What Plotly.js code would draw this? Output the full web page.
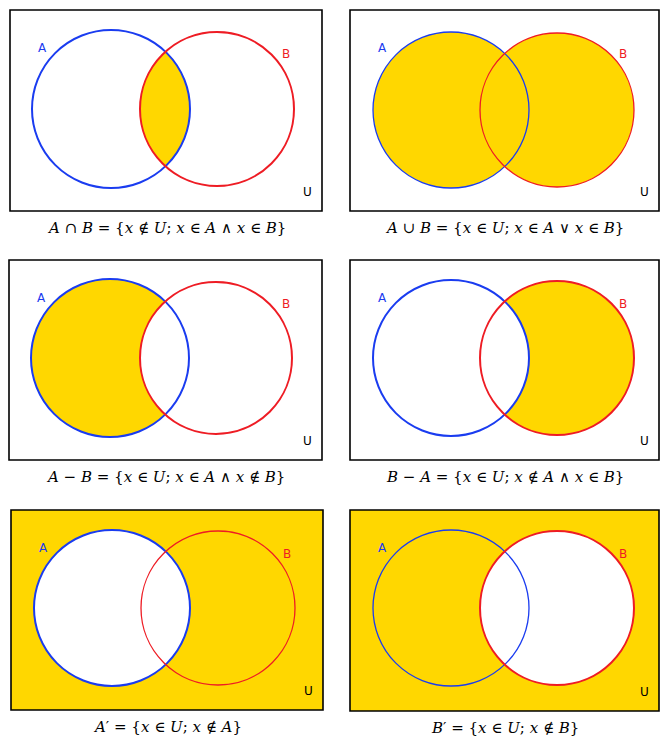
<!DOCTYPE html>
<html>
<head>
<meta charset="utf-8">
<script src="https://cdn.plot.ly/plotly-3.0.1.min.js"></script>
<style>body{margin:0;background:#fff}</style>
</head>
<body>
<div id="chart"></div>
<script>
// panel boxes [left, top, right, bottom]
const boxes = [[10,10,322,211],[350,10,659,211],[9,260,322,460],[350,260,659,460],[11,510,323,710],[350,510,659,711]];
// circle A and B: [cx, cy, r]
const circA = [[111,109,79],[451,110,78],[110,358,79],[451,358,78],[112,608,78],[451,608,78]];
const circB = [[217,109,77],[557,110,77],[216,358,76],[557,358,77],[218,608,77],[557,608,77]];
// which region is shaded
const regions = ["AnB","AuB","A-B","B-A","A'","B'"];
const captions = [
  "<i>A</i> ∩ <i>B</i> = {<i>x</i> ∉ <i>U</i>; <i>x</i> ∈ <i>A</i> ∧ <i>x</i> ∈ <i>B</i>}",
  "<i>A</i> ∪ <i>B</i> = {<i>x</i> ∈ <i>U</i>; <i>x</i> ∈ <i>A</i> ∨ <i>x</i> ∈ <i>B</i>}",
  "<i>A</i> − <i>B</i> = {<i>x</i> ∈ <i>U</i>; <i>x</i> ∈ <i>A</i> ∧ <i>x</i> ∉ <i>B</i>}",
  "<i>B</i> − <i>A</i> = {<i>x</i> ∈ <i>U</i>; <i>x</i> ∉ <i>A</i> ∧ <i>x</i> ∈ <i>B</i>}",
  "<i>A</i>′ = {<i>x</i> ∈ <i>U</i>; <i>x</i> ∉ <i>A</i>}",
  "<i>B</i>′ = {<i>x</i> ∈ <i>U</i>; <i>x</i> ∉ <i>B</i>}"
];

const YEL = "#ffd700", BLUE = "#1a3cf0", RED = "#ee1c24";
const shapes = [], annotations = [];

function circ(c, fill, line, w) {
  return {type:"circle", xref:"x", yref:"y", x0:c[0]-c[2], x1:c[0]+c[2], y0:c[1]-c[2], y1:c[1]+c[2],
    fillcolor:fill, line:{color:line, width:w}};
}
function lens(A, B) {
  const d = B[0]-A[0];
  const a = (d*d + A[2]*A[2] - B[2]*B[2])/(2*d);
  const h = Math.sqrt(A[2]*A[2] - a*a);
  const al = Math.atan2(h, a), be = Math.atan2(h, d-a);
  const pts = [];
  for (let i=0;i<=40;i++){const t=-al+2*al*i/40; pts.push([A[0]+A[2]*Math.cos(t), A[1]+A[2]*Math.sin(t)]);}
  for (let i=0;i<=40;i++){const t=Math.PI-be+2*be*i/40; pts.push([B[0]+B[2]*Math.cos(t), B[1]+B[2]*Math.sin(t)]);}
  return "M" + pts.map(p=>p[0].toFixed(2)+","+p[1].toFixed(2)).join(" L") + " Z";
}

boxes.forEach((b, i) => {
  const A = circA[i], B = circB[i], r = regions[i];
  const none = "rgba(0,0,0,0)";
  if (r === "A'" || r === "B'")
    shapes.push({type:"rect", xref:"x", yref:"y", x0:b[0], x1:b[2], y0:b[1], y1:b[3], fillcolor:YEL, line:{width:0}});
  if (r === "AnB") shapes.push({type:"path", xref:"x", yref:"y", path:lens(A,B), fillcolor:YEL, line:{width:0}});
  if (r === "AuB") { shapes.push(circ(A,YEL,none,0)); shapes.push(circ(B,YEL,none,0)); }
  if (r === "A-B") { shapes.push(circ(A,YEL,none,0)); shapes.push(circ(B,"#fff",none,0)); }
  if (r === "B-A") { shapes.push(circ(B,YEL,none,0)); shapes.push(circ(A,"#fff",none,0)); }
  if (r === "A'") shapes.push(circ(A,"#fff",none,0));
  if (r === "B'") shapes.push(circ(B,"#fff",none,0));
  const thin = (r === "AuB" || r === "A'" || r === "B'");
  shapes.push(circ(A,none,BLUE, (r==="AuB"||r==="B'") ? 1.3 : 2));
  shapes.push(circ(B,none,RED, (r==="AuB"||r==="A'") ? 1.3 : 2));
  shapes.push({type:"rect", xref:"x", yref:"y", x0:b[0], x1:b[2], y0:b[1], y1:b[3], fillcolor:none, line:{color:"#000", width:1.6}});
  const lf = {family:"DejaVu Sans, sans-serif", size:12};
  annotations.push({x:b[0]+32, y:b[1]+38, text:"A", showarrow:false, font:{...lf, color:BLUE}});
  annotations.push({x:b[2]-36, y:b[1]+44, text:"B", showarrow:false, font:{...lf, color:RED}});
  annotations.push({x:b[2]-15, y:b[3]-19, text:"U", showarrow:false, font:{...lf, color:"#000"}});
  annotations.push({x:(b[0]+b[2])/2, y:b[3]+17, text:captions[i], showarrow:false,
    font:{family:"DejaVu Serif, Liberation Serif, serif", size:15, color:"#000"}});
});

Plotly.newPlot("chart", [], {
  width:672, height:747, margin:{l:0,r:0,t:0,b:0},
  paper_bgcolor:"#fff", plot_bgcolor:"#fff",
  xaxis:{range:[0,672], visible:false, fixedrange:true},
  yaxis:{range:[747,0], visible:false, fixedrange:true},
  shapes, annotations, showlegend:false
}, {staticPlot:true});
</script>
</body>
</html>
